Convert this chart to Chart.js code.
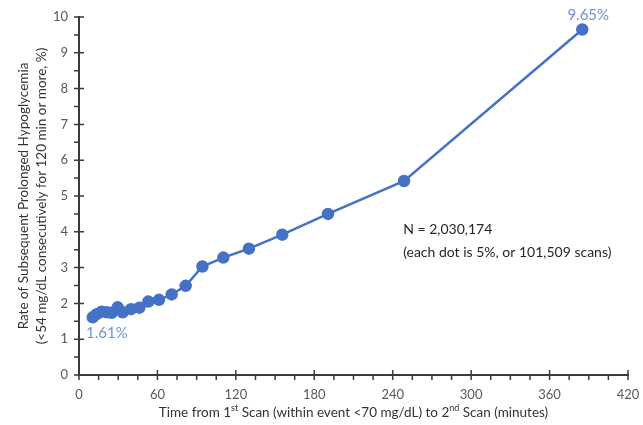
<!DOCTYPE html>
<html>
<head>
<meta charset="utf-8">
<script src="https://cdn.jsdelivr.net/npm/chart.js@4.4.1/dist/chart.umd.min.js"></script>
<style>
  html, body { margin: 0; padding: 0; background: #fff; }
  #wrap { width: 643px; height: 425px; }
</style>
</head>
<body>
<div id="wrap"><canvas id="hypoChart"></canvas></div>
<script>
// minutes between 1st and 2nd scan (one dot per 5% of scans)
var minutes = [10.5, 13.5, 17.4, 21.2, 25, 29.6, 33.4, 39.8, 46.2, 53, 61.2, 70.9, 81.6, 94.4, 110.4, 130, 155.5, 190.5, 248.7, 385];
var rates = [1.61, 1.70, 1.77, 1.75, 1.74, 1.89, 1.75, 1.84, 1.88, 2.05, 2.10, 2.25, 2.49, 3.03, 3.28, 3.53, 3.92, 4.50, 5.42, 9.65];
var xTicks = [0, 60, 120, 180, 240, 300, 360, 420];
var yTicks = [0, 1, 2, 3, 4, 5, 6, 7, 8, 9, 10];
var yTitle = ['Rate of Subsequent Prolonged Hypoglycemia', '(<54 mg/dL consecutively for 120 min or more, %)'];
var noteLines = ['N = 2,030,174', '(each dot is 5%, or 101,509 scans)'];

var FONT = 'Lato, "Liberation Sans", sans-serif';
var AXIS = '#3a3a3a';

// tick marks: major cross the axis line, minor only outside
var tickMarks = {
    id: 'tickMarks',
    afterDraw: function(chart) {
        var c = chart.ctx, xs = chart.scales.x, ys = chart.scales.y;
        var a = chart.chartArea;
        c.save();
        c.strokeStyle = AXIS;
        c.lineWidth = 1.5;
        c.beginPath();
        for (var v = 0; v <= 420; v += 15) {
            var px = xs.getPixelForValue(v);
            var major = v % 60 === 0;
            c.moveTo(px, a.bottom - (major ? 5 : 0));
            c.lineTo(px, a.bottom + 5);
        }
        for (var w = 0; w <= 10; w += 0.5) {
            var py = ys.getPixelForValue(w);
            var maj = w % 1 === 0;
            c.moveTo(a.left - 5, py);
            c.lineTo(a.left + (maj ? 5 : 0), py);
        }
        c.stroke();
        c.restore();
    }
};

// labels, note and x title (with superscripts)
var notes = {
    id: 'notes',
    afterDraw: function(chart) {
        var c = chart.ctx, xs = chart.scales.x, ys = chart.scales.y;
        var a = chart.chartArea;
        c.save();
        c.textBaseline = 'middle';
        c.fillStyle = '#6b93d6';
        c.font = '15px ' + FONT;
        c.textAlign = 'left';
        c.fillText(rates[0].toFixed(2) + '%', a.left + 7, ys.getPixelForValue(rates[0]) + 16);
        c.textAlign = 'center';
        var last = rates.length - 1;
        c.fillText(rates[last].toFixed(2) + '%', xs.getPixelForValue(minutes[last]) + 6, ys.getPixelForValue(rates[last]) - 14);

        c.fillStyle = '#262626';
        c.font = '14px ' + FONT;
        c.textAlign = 'left';
        c.fillText(noteLines[0], xs.getPixelForValue(248), ys.getPixelForValue(4.07));
        c.fillText(noteLines[1], xs.getPixelForValue(248), ys.getPixelForValue(3.43));

        // x axis title
        var parts = [
            ['Time from 1', false], ['st', true], [' Scan (within event <70 mg/dL) to 2', false],
            ['nd', true], [' Scan (minutes)', false]
        ];
        var big = '13.5px ' + FONT, small = '9px ' + FONT;
        var total = 0;
        parts.forEach(function(p) { c.font = p[1] ? small : big; total += c.measureText(p[0]).width; });
        var x = (a.left + a.right) / 2 - total / 2;
        var y = 413;
        c.fillStyle = '#333';
        c.textAlign = 'left';
        parts.forEach(function(p) {
            c.font = p[1] ? small : big;
            c.fillText(p[0], x, p[1] ? y - 5 : y);
            x += c.measureText(p[0]).width;
        });
        c.restore();
    }
};

var ctx = document.getElementById('hypoChart').getContext('2d');
var hypoChart = new Chart(ctx, {
    type: 'line',
    data: {
        datasets: [{
            data: minutes.map(function(m, i) { return { x: m, y: rates[i] }; }),
            borderColor: '#4472c4',
            backgroundColor: '#4472c4',
            pointBackgroundColor: '#4472c4',
            pointBorderColor: '#4472c4',
            pointRadius: 5,
            borderWidth: 2.5,
            tension: 0,
            fill: false
        }]
    },
    options: {
        responsive: true,
        maintainAspectRatio: false,
        animation: false,
        layout: { padding: { top: 17, right: 15, left: 0, bottom: 0 } },
        plugins: {
            legend: { display: false },
            tooltip: { enabled: false }
        },
        scales: {
            x: {
                type: 'linear',
                min: 0,
                max: 420,
                afterBuildTicks: function(s) { s.ticks = xTicks.map(function(v) { return { value: v }; }); },
                afterFit: function(s) { s.height = 50; s.paddingRight = 0; s.paddingLeft = 0; },
                grid: { drawOnChartArea: false, drawTicks: false, color: 'transparent' },
                border: { display: true, color: AXIS, width: 2 },
                ticks: { padding: 12, color: '#595959', font: { family: FONT, size: 13 }, maxRotation: 0 },
                title: { display: false }
            },
            y: {
                min: 0,
                max: 10,
                afterBuildTicks: function(s) { s.ticks = yTicks.map(function(v) { return { value: v }; }); },
                afterFit: function(s) { s.width = 79; s.paddingTop = 0; s.paddingBottom = 0; },
                grid: { drawOnChartArea: false, drawTicks: false, color: 'transparent' },
                border: { display: true, color: AXIS, width: 2 },
                ticks: { padding: 11, color: '#595959', font: { family: FONT, size: 13 } },
                title: {
                    display: true,
                    text: yTitle,
                    color: '#333',
                    font: { family: FONT, size: 13.5, lineHeight: 1.3 },
                    padding: { top: 15, bottom: 2 }
                }
            }
        }
    },
    plugins: [tickMarks, notes]
});
</script>
</body>
</html>
